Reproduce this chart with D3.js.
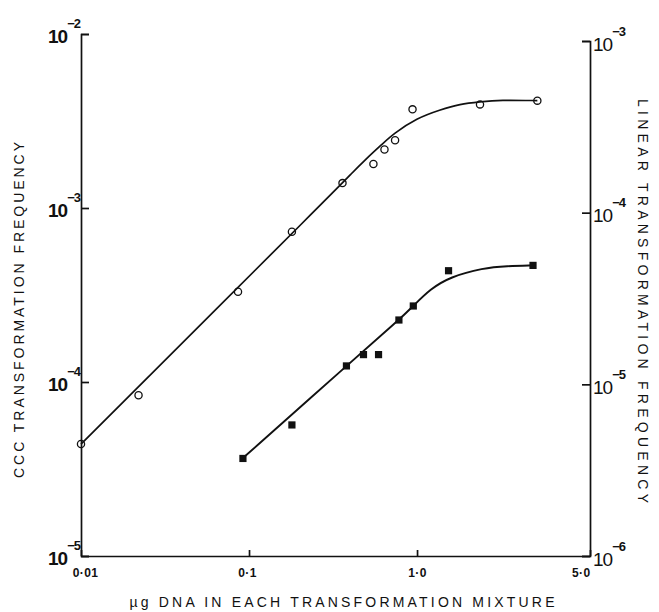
<!DOCTYPE html>
<html>
<head>
<meta charset="utf-8">
<script src="https://cdn.jsdelivr.net/npm/d3@7"></script>
<style>
  html, body { margin: 0; padding: 0; background: #fff; }
  svg { display: block; }
  text { font-family: "Liberation Sans", Arial, sans-serif; fill: #111; }
</style>
</head>
<body>
<script>
// ---------- data ----------
// x axis: µg DNA (log). The right end of the axis carries the label "5·0" in the original.
const xDomain = [0.01, 10.7];
const xTickValues = [0.01, 0.1, 1.0, 10.7];
const xTickLabels = ["0·01", "0·1", "1·0", "5·0"];

// left axis: CCC transformation frequency
const yLeftDomain = [1e-5, 1e-2];
const yLeftTicks = [1e-5, 1e-4, 1e-3, 1e-2];
const yLeftExps = ["−5", "−4", "−3", "−2"];

// right axis: linear transformation frequency
const yRightDomain = [1e-6, 1e-3];
const yRightTicks = [1e-6, 1e-5, 1e-4, 1e-3];
const yRightExps = ["−6", "−5", "−4", "−3"];

// CCC DNA (open circles, left axis)
const cccDose = [0.01, 0.022, 0.086, 0.18, 0.36, 0.55, 0.64, 0.74, 0.94, 2.37, 5.2];
const cccFreq = [4.4e-5, 8.4e-5, 3.3e-4, 7.3e-4, 1.39e-3, 1.79e-3, 2.17e-3, 2.45e-3, 3.69e-3, 3.94e-3, 4.14e-3];
// fitted curve through CCC data
const cccCurveDose = [0.01, 0.36, 0.40, 0.49, 0.63, 0.72, 1.0, 1.37, 1.8, 2.37, 3.12, 5.2];
const cccCurveFreq = [4.4e-5, 1.39e-3, 1.55e-3, 1.89e-3, 2.36e-3, 2.66e-3, 3.29e-3, 3.66e-3, 3.96e-3, 4.08e-3, 4.18e-3, 4.14e-3];

// linear DNA (filled squares, right axis)
const linDose = [0.092, 0.18, 0.38, 0.48, 0.59, 0.78, 0.95, 1.54, 4.9];
const linFreq = [3.7e-6, 5.8e-6, 1.28e-5, 1.49e-5, 1.49e-5, 2.37e-5, 2.86e-5, 4.59e-5, 4.93e-5];
const linCurveDose = [0.092, 0.38, 0.78, 0.95, 1.2, 1.57, 2.47, 3.43, 4.9];
const linCurveFreq = [3.72e-6, 1.28e-5, 2.37e-5, 2.86e-5, 3.59e-5, 4.22e-5, 4.76e-5, 4.89e-5, 4.93e-5];

const xTitle = "µg DNA IN EACH TRANSFORMATION MIXTURE";
const yLeftTitle = "CCC TRANSFORMATION FREQUENCY";
const yRightTitle = "LINEAR TRANSFORMATION FREQUENCY";

// ---------- layout ----------
const W = 659, H = 612;
const left = 81, right = 590, bottom = 556, topL = 34, topR = 41;

const svg = d3.select("body").append("svg").attr("width", W).attr("height", H);
svg.append("rect").attr("width", W).attr("height", H).attr("fill", "#fff");

const x = d3.scaleLog().domain(xDomain).range([left, right]);
const yL = d3.scaleLog().domain(yLeftDomain).range([bottom, topL]);
const yR = d3.scaleLog().domain(yRightDomain).range([bottom, topR]);

const axisStyle = g => {
  g.select(".domain").attr("stroke", "#111").attr("stroke-width", 1.7);
  g.selectAll(".tick line").attr("stroke", "#111").attr("stroke-width", 1.7);
};

// left axis
const gL = svg.append("g").attr("transform", `translate(${left},0)`)
  .call(d3.axisLeft(yL).tickValues(yLeftTicks).tickSize(-8).tickFormat(""))
  .call(axisStyle);
gL.selectAll(".tick text").each(function(d, i) {
  const t = d3.select(this);
  t.text(null).attr("x", -33).attr("y", 8.5).attr("dy", null)
    .attr("text-anchor", "start").attr("font-size", 19).attr("font-weight", "bold")
    .attr("font-family", "Liberation Sans, Arial, sans-serif").attr("fill", "#111");
  t.append("tspan").attr("letter-spacing", -1).text("10");
  t.append("tspan").attr("dy", -15).attr("dx", 0).attr("font-size", 13).attr("letter-spacing", -1).text(yLeftExps[i]);
});

// right axis
const gR = svg.append("g").attr("transform", `translate(${right},0)`)
  .call(d3.axisRight(yR).tickValues(yRightTicks).tickSize(-8).tickFormat(""))
  .call(axisStyle);
gR.selectAll(".tick text").each(function(d, i) {
  const t = d3.select(this);
  t.text(null).attr("x", 3).attr("y", 9).attr("dy", null)
    .attr("text-anchor", "start").attr("font-size", 19)
    .attr("font-family", "Liberation Sans, Arial, sans-serif").attr("fill", "#111");
  t.append("tspan").attr("letter-spacing", -1).text("10");
  t.append("tspan").attr("dy", -15).attr("dx", 0).attr("font-size", 13).attr("font-weight", "bold").attr("letter-spacing", -1).text(yRightExps[i]);
});

// bottom axis
const gB = svg.append("g").attr("transform", `translate(0,${bottom})`)
  .call(d3.axisBottom(x).tickValues(xTickValues).tickSizeInner(-6).tickSizeOuter(0)
    .tickFormat((d, i) => xTickLabels[i]))
  .call(axisStyle);
gB.selectAll(".tick text")
  .attr("y", 21).attr("dy", null).attr("font-size", 12).attr("font-weight", "bold")
  .attr("letter-spacing", 0.4)
  .attr("font-family", "Liberation Sans, Arial, sans-serif").attr("fill", "#111")
  .each(function(d, i) {
    const t = d3.select(this);
    if (i === 0) t.attr("x", 4);
    if (i === xTickValues.length - 1) t.attr("text-anchor", "end").attr("x", 0);
    if (i === 1) t.attr("x", -2);
  });

// curves
const cccCurve = cccCurveDose.map((d, i) => [x(d), yL(cccCurveFreq[i])]);
const linCurve = linCurveDose.map((d, i) => [x(d), yR(linCurveFreq[i])]);
const line = d3.line().curve(d3.curveBasis);
svg.append("path").attr("d", line(cccCurve)).attr("fill", "none")
  .attr("stroke", "#111").attr("stroke-width", 1.7);
svg.append("path").attr("d", line(linCurve)).attr("fill", "none")
  .attr("stroke", "#111").attr("stroke-width", 1.9);

// markers
svg.append("g").selectAll("circle").data(cccDose).join("circle")
  .attr("cx", d => x(d)).attr("cy", (d, i) => yL(cccFreq[i])).attr("r", 3.6)
  .attr("fill", "none").attr("stroke", "#111").attr("stroke-width", 1.3);
svg.append("g").selectAll("rect").data(linDose).join("rect")
  .attr("x", d => x(d) - 3.6).attr("y", (d, i) => yR(linFreq[i]) - 3.6)
  .attr("width", 7.2).attr("height", 7.2).attr("fill", "#111");

// titles
svg.append("text").attr("transform", "translate(19,310) rotate(-90)")
  .attr("text-anchor", "middle").attr("dy", "0.35em").attr("font-size", 14)
  .attr("textLength", 336).attr("lengthAdjust", "spacing").text(yLeftTitle);
svg.append("text").attr("transform", "translate(643,301) rotate(90)")
  .attr("text-anchor", "middle").attr("dy", "0.35em").attr("font-size", 14)
  .attr("textLength", 404).attr("lengthAdjust", "spacing").text(yRightTitle);
svg.append("text").attr("x", 342).attr("y", 607)
  .attr("text-anchor", "middle").attr("font-size", 14)
  .attr("textLength", 425).attr("lengthAdjust", "spacing").text(xTitle);
</script>
</body>
</html>
